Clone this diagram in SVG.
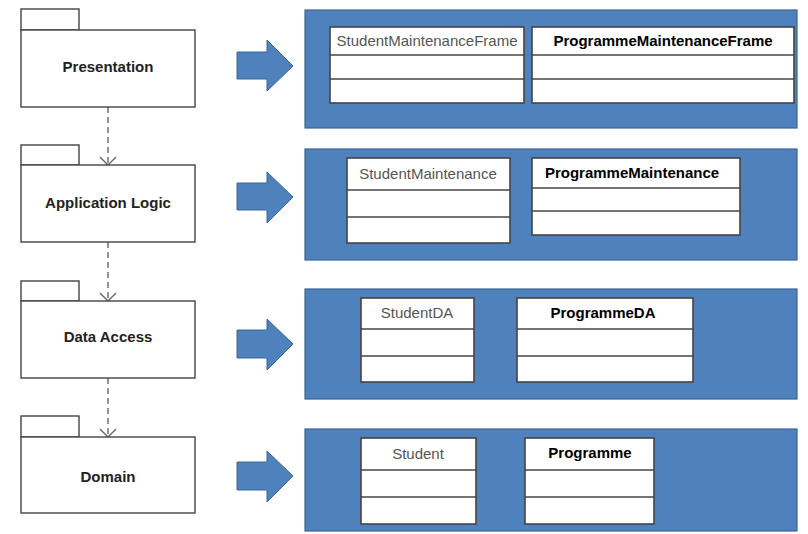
<svg xmlns="http://www.w3.org/2000/svg" width="808" height="534" viewBox="0 0 808 534">
<defs>
<style>
.pkg{fill:#fff;stroke:#444;stroke-width:1.4}
.pl{font-family:"Liberation Sans",Arial,sans-serif;font-weight:bold;font-size:15px;fill:#222;text-anchor:middle}
.panel{fill:#4f81bd;stroke:#3a6597;stroke-width:1.2}
.cls{fill:#fff;stroke:#444;stroke-width:1.6}
.div{stroke:#444;stroke-width:1.6}
.sn{font-family:"Liberation Sans",Arial,sans-serif;font-size:15px;fill:#555;text-anchor:middle}
.pn{font-family:"Liberation Sans",Arial,sans-serif;font-weight:bold;font-size:15px;fill:#000;text-anchor:middle}
.dep{stroke:#666;stroke-width:1.4;stroke-dasharray:6,4;fill:none}
.ah{stroke:#666;stroke-width:1.4;fill:none}
.blk{fill:#4f81bd;stroke:#3a6597;stroke-width:1}
</style>
</defs>
<g id="connectors">
<line class="dep" x1="108" y1="107" x2="108" y2="164"/>
<polyline class="ah" points="100,157 108,165 116,157"/>
<line class="dep" x1="108" y1="242" x2="108" y2="300"/>
<polyline class="ah" points="100,293 108,301 116,293"/>
<line class="dep" x1="108" y1="378" x2="108" y2="436"/>
<polyline class="ah" points="100,429 108,437 116,429"/>
<polygon class="blk" points="237,52 267,52 267,40 293,66 267,91 267,79 237,79"/>
<polygon class="blk" points="237,183 267,183 267,172 293,197 267,223 267,210 237,210"/>
<polygon class="blk" points="237,330 267,330 267,319 293,344 267,370 267,358 237,358"/>
<polygon class="blk" points="237,462 267,462 267,451 293,476 267,502 267,490 237,490"/>
</g>
<g id="presentation">
<rect class="pkg" x="21" y="9" width="58" height="21"/>
<rect class="pkg" x="21" y="30" width="174" height="77"/>
<text class="pl" x="108" y="72">Presentation</text>
</g>
<g id="application-logic">
<rect class="pkg" x="21" y="145" width="58" height="20"/>
<rect class="pkg" x="21" y="165" width="174" height="77"/>
<text class="pl" x="108" y="208">Application Logic</text>
</g>
<g id="data-access">
<rect class="pkg" x="21" y="281" width="58" height="20"/>
<rect class="pkg" x="21" y="301" width="174" height="77"/>
<text class="pl" x="108" y="342">Data Access</text>
</g>
<g id="domain">
<rect class="pkg" x="21" y="416" width="58" height="21"/>
<rect class="pkg" x="21" y="437" width="174" height="76"/>
<text class="pl" x="108" y="482">Domain</text>
</g>
<g id="panel-presentation">
<rect class="panel" x="305" y="10" width="492" height="118"/>
</g>
<g id="StudentMaintenanceFrame">
<rect class="cls" x="330" y="27" width="194" height="76"/>
<line class="div" x1="330" y1="55" x2="524" y2="55"/>
<line class="div" x1="330" y1="79" x2="524" y2="79"/>
<text class="sn" x="427" y="46">StudentMaintenanceFrame</text>
</g>
<g id="ProgrammeMaintenanceFrame">
<rect class="cls" x="532" y="27" width="262" height="76"/>
<line class="div" x1="532" y1="55" x2="794" y2="55"/>
<line class="div" x1="532" y1="79" x2="794" y2="79"/>
<text class="pn" x="663" y="46">ProgrammeMaintenanceFrame</text>
</g>
<g id="panel-application">
<rect class="panel" x="305" y="149" width="492" height="111"/>
</g>
<g id="StudentMaintenance">
<rect class="cls" x="347" y="158" width="163" height="85"/>
<line class="div" x1="347" y1="190" x2="510" y2="190"/>
<line class="div" x1="347" y1="217" x2="510" y2="217"/>
<text class="sn" x="428" y="179">StudentMaintenance</text>
</g>
<g id="ProgrammeMaintenance">
<rect class="cls" x="532" y="158" width="208" height="77"/>
<line class="div" x1="532" y1="188" x2="740" y2="188"/>
<line class="div" x1="532" y1="211" x2="740" y2="211"/>
<text class="pn" x="632" y="178">ProgrammeMaintenance</text>
</g>
<g id="panel-data">
<rect class="panel" x="305" y="289" width="492" height="110"/>
</g>
<g id="StudentDA">
<rect class="cls" x="361" y="298" width="113" height="84"/>
<line class="div" x1="361" y1="329" x2="474" y2="329"/>
<line class="div" x1="361" y1="356" x2="474" y2="356"/>
<text class="sn" x="417" y="318">StudentDA</text>
</g>
<g id="ProgrammeDA">
<rect class="cls" x="517" y="298" width="176" height="84"/>
<line class="div" x1="517" y1="329" x2="693" y2="329"/>
<line class="div" x1="517" y1="356" x2="693" y2="356"/>
<text class="pn" x="603" y="318">ProgrammeDA</text>
</g>
<g id="panel-domain">
<rect class="panel" x="305" y="429" width="492" height="102"/>
</g>
<g id="Student">
<rect class="cls" x="361" y="438" width="115" height="86"/>
<line class="div" x1="361" y1="470" x2="476" y2="470"/>
<line class="div" x1="361" y1="497" x2="476" y2="497"/>
<text class="sn" x="418" y="459">Student</text>
</g>
<g id="Programme">
<rect class="cls" x="525" y="438" width="129" height="86"/>
<line class="div" x1="525" y1="470" x2="654" y2="470"/>
<line class="div" x1="525" y1="497" x2="654" y2="497"/>
<text class="pn" x="590" y="458">Programme</text>
</g>
</svg>
